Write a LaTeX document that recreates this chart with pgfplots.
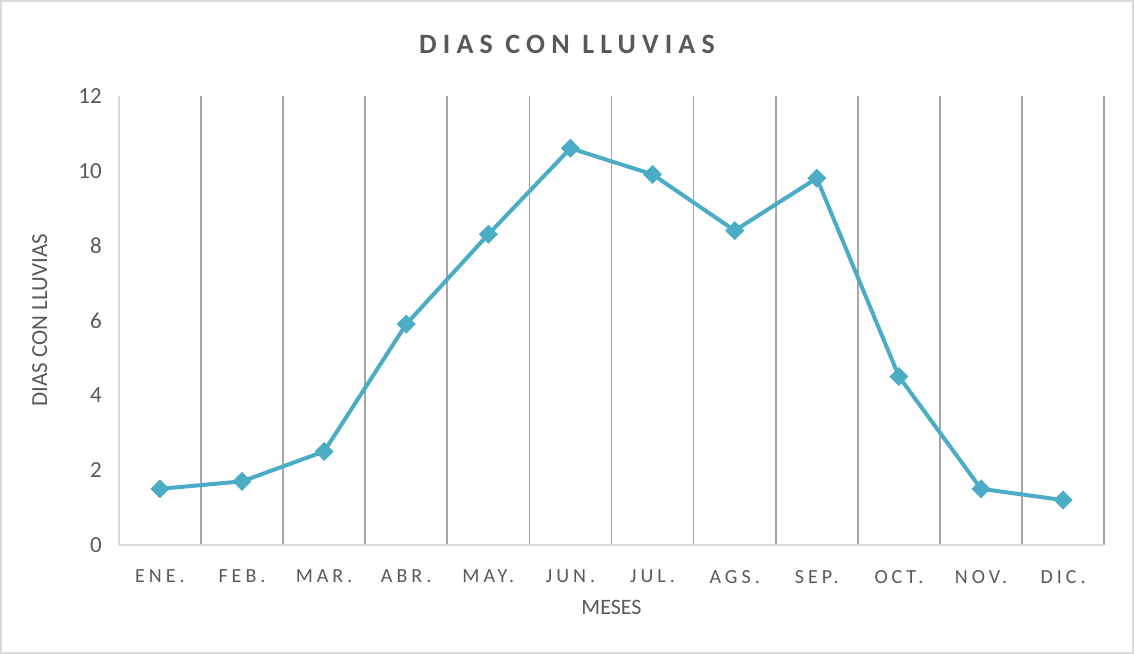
\documentclass[border=0pt]{standalone}
\usepackage{fontspec}
\setmainfont{Carlito}
\newfontfamily\spacedfont[LetterSpace=20]{Carlito}
\newfontfamily\titlefont[LetterSpace=22]{Carlito}
\usepackage{pgfplots}
\pgfplotsset{compat=1.18}

\definecolor{txtgrey}{HTML}{595959}
\definecolor{gridgrey}{HTML}{A6A6A6}
\definecolor{axisgrey}{HTML}{D9D9D9}
\definecolor{lineblue}{HTML}{4BACC6}

\begin{document}
\begin{tikzpicture}
\begin{axis}[
    scale only axis,
    width=492.5pt,
    height=224.5pt,
    xmin=0.5, xmax=12.5,
    ymin=0, ymax=12,
    xtick={1,...,12},
    xticklabels={ENE.,FEB.,MAR.,ABR.,MAY.,JUN.,JUL.,AGS.,SEP.,OCT.,NOV.,DIC.},
    minor xtick={1.5,2.5,...,12.5},
    xminorgrids,
    minor grid style={draw=gridgrey, line width=0.8pt},
    ytick={0,2,...,12},
    major tick length=0pt,
    minor tick length=0pt,
    axis lines*=left,
    axis line style={draw=axisgrey, line width=1pt, -},
    x tick label style={font=\spacedfont\fontsize{10}{12}\selectfont, text=txtgrey, yshift=-9pt},
    y tick label style={font=\fontsize{11.5}{13}\selectfont, text=txtgrey, xshift=-5pt},
    /pgf/number format/assume math mode=true,
    clip=false,
]
\addplot[color=lineblue, line width=2pt, mark=square*, mark size=3.1pt,
    mark options={fill=lineblue, draw=lineblue, line width=0.5pt, rotate=45}]
    coordinates {(1,1.5) (2,1.7) (3,2.5) (4,5.9) (5,8.3) (6,10.6)
                 (7,9.9) (8,8.4) (9,9.8) (10,4.5) (11,1.5) (12,1.2)};
\draw[axisgrey, line width=0.8pt]
    ([shift={(-59pt,-54pt)}]rel axis cs:0,0) rectangle ([shift={(14.5pt,47.5pt)}]rel axis cs:1,1);
\node[font=\titlefont\bfseries\fontsize{14}{16}\selectfont, text=txtgrey]
    at ([yshift=25.5pt]rel axis cs:0.4548,1) {DIAS CON LLUVIAS};
\node[font=\fontsize{11}{13}\selectfont, text=txtgrey]
    at ([yshift=-31pt]rel axis cs:0.5,0) {MESES};
\node[font=\fontsize{11.5}{13}\selectfont, text=txtgrey, rotate=90]
    at ([xshift=-39.5pt]rel axis cs:0,0.5) {DIAS CON LLUVIAS};
\end{axis}
\end{tikzpicture}
\end{document}
